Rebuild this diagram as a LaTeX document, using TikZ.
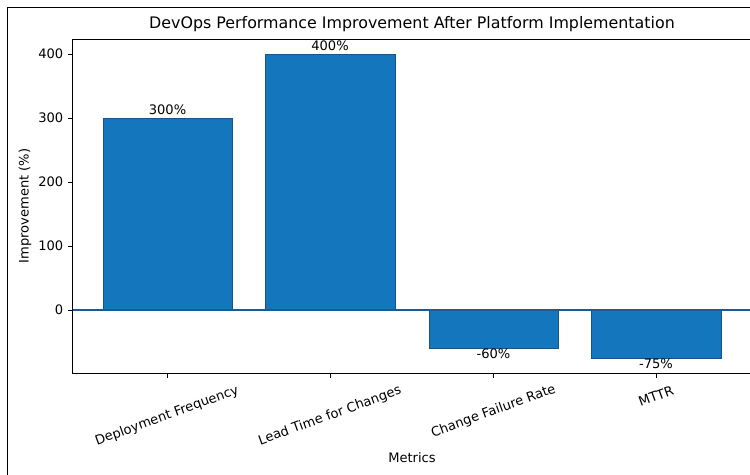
\documentclass[tikz,border=0pt]{standalone}
\usepackage{fontspec}
\setmainfont{DejaVu Sans}
\definecolor{barfill}{RGB}{20,119,190}
\definecolor{baredge}{RGB}{24,84,140}
\definecolor{zeroline}{RGB}{28,90,150}
\begin{document}
\begin{tikzpicture}[x=0.75pt,y=-0.75pt,
  bar/.style={fill=barfill,draw=baredge,line width=0.75pt},
  spine/.style={draw=black,line width=0.75pt},
  tick/.style={draw=black,line width=0.7pt},
  ticklab/.style={font=\fontsize{9.8}{11}\selectfont,inner sep=0pt},
  vallab/.style={font=\fontsize{9.8}{11}\selectfont,inner sep=0pt},
  axlab/.style={font=\fontsize{9.8}{11}\selectfont,inner sep=0pt},
  titlelab/.style={font=\fontsize{11.9}{13}\selectfont,inner sep=0pt}]
\useasboundingbox (0,0) rectangle (750,475);
\fill[white] (0,0) rectangle (750,475);
% outer frame
\draw[black,line width=1.3pt] (7.5,480) -- (7.5,7.5) -- (760,7.5);
% bars
\draw[bar] (103,310) rectangle (232,118);
\draw[bar] (265,310) rectangle (395,54);
\draw[bar] (429,310) rectangle (558,348.4);
\draw[bar] (591,310) rectangle (721,358);
% zero line
\draw[zeroline,line width=1.1pt] (72,310) -- (750,310);
% spines
\draw[spine] (750,39) -- (72,39) -- (72,373) -- (750,373);
% y ticks
\foreach \v/\yy in {0/310,100/246,200/182,300/118,400/54}{
  \draw[tick] (72,\yy) -- (67.5,\yy);
  \node[ticklab,anchor=east] (yt\v) at (63.5,\yy) {\v};
}
% x ticks
\foreach \xx in {167.5,330,493.5,656}{
  \draw[tick] (\xx,373) -- (\xx,377.5);
}
\node[ticklab,rotate=20] (xl1) at (167,416) {Deployment Frequency};
\node[ticklab,rotate=20] (xl2) at (330,416) {Lead Time for Changes};
\node[ticklab,rotate=20] (xl3) at (493.5,411.5) {Change Failure Rate};
\node[ticklab,rotate=20] (xl4) at (656,396) {MTTR};
% value labels
\node[vallab] (v1) at (167.5,110) {300\%};
\node[vallab] (v2) at (330,46) {400\%};
\node[vallab] (v3) at (493.5,353.5) {-60\%};
\node[vallab] (v4) at (656,364) {-75\%};
% axis labels
\node[axlab] (xlab) at (412,458) {Metrics};
\node[axlab,rotate=90] (ylab) at (25,206) {Improvement (\%)};
\node[titlelab] (title) at (412,24) {DevOps Performance Improvement After Platform Implementation};
\end{tikzpicture}
\end{document}
